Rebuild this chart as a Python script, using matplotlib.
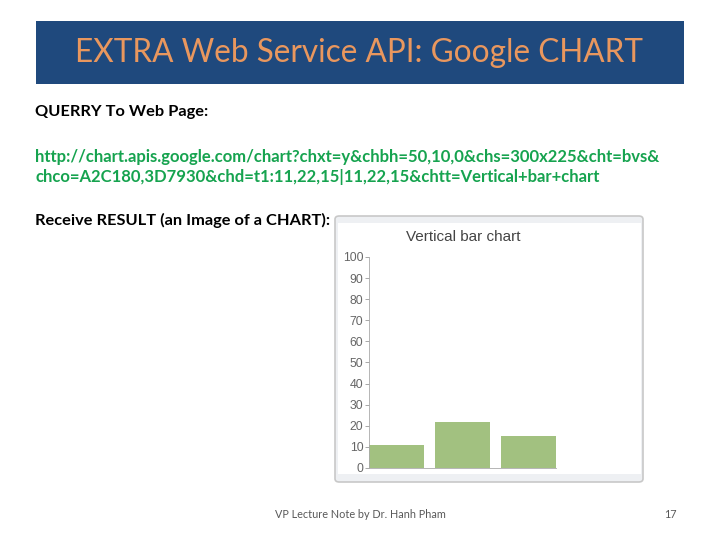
import matplotlib
matplotlib.use("Agg")
import matplotlib.pyplot as plt
from matplotlib.patches import Rectangle, FancyBboxPatch

W, H = 720, 540

# data from the chart image
categories = ["A", "B", "C"]
values = [11, 22, 15]
y_ticks = [0, 10, 20, 30, 40, 50, 60, 70, 80, 90, 100]

slide_title = "EXTRA Web Service API: Google CHART"
query_label = "QUERRY To Web Page:"
url_lines = ["http://chart.apis.google.com/chart?chxt=y&chbh=50,10,0&chs=300x225&cht=bvs&",
             "chco=A2C180,3D7930&chd=t1:11,22,15|11,22,15&chtt=Vertical+bar+chart"]
result_label = "Receive RESULT (an Image of a CHART):"
chart_title = "Vertical bar chart"
footer = "VP Lecture Note by Dr. Hanh Pham"
page_no = "17"


def fx(px):
    return px / W


def fy(py):
    return 1 - py / H


fig = plt.figure(figsize=(7.2, 5.4), dpi=100)
fig.patch.set_facecolor("white")

# title banner
fig.patches.append(Rectangle((fx(36), fy(84)), fx(684) - fx(36), fy(21) - fy(84),
                             transform=fig.transFigure, facecolor="#1F497D", edgecolor="none"))
fig.text(fx(359), fy(53), slide_title, ha="center", va="center", color="#E9975E",
         fontsize=22.7, family="Lato")

fig.text(fx(35), fy(112), query_label, ha="left", va="center", color="black",
         fontsize=11.8, family="Lato", weight="bold")
fig.text(fx(35), fy(157), url_lines[0], ha="left", va="center", color="#16A34F",
         fontsize=12, family="Lato", weight="bold")
fig.text(fx(35), fy(177), url_lines[1], ha="left", va="center", color="#16A34F",
         fontsize=12, family="Lato", weight="bold")
fig.text(fx(35), fy(220), result_label, ha="left", va="center", color="black",
         fontsize=11.8, family="Lato", weight="bold")

# chart image frame
fig.patches.append(FancyBboxPatch((fx(335), fy(482)), fx(643) - fx(335), fy(216) - fy(482),
                                  boxstyle="round,pad=0,rounding_size=0.006",
                                  transform=fig.transFigure, facecolor="#EEF0F3",
                                  edgecolor="#C8C8C8", linewidth=1.2))
fig.patches.append(Rectangle((fx(338), fy(474)), fx(641) - fx(338), fy(223) - fy(474),
                             transform=fig.transFigure, facecolor="white", edgecolor="none"))
fig.text(fx(463), fy(237), chart_title, ha="center", va="center", color="#444444",
         fontsize=11, family="Liberation Sans")

ax = fig.add_axes([fx(369), fy(468), fx(633) - fx(369), fy(257) - fy(468)])
ax.set_zorder(5)
ax.set_facecolor("none")
x = range(len(categories))
ax.bar(x, values, width=0.83, align="edge", color="#A2C180", edgecolor="none")
ax.set_xlim(0, 4.0)
ax.set_ylim(0, 100)
ax.set_yticks(y_ticks)
ax.set_yticklabels([str(t) for t in y_ticks], color="#666666", fontsize=8.8,
                   family="Liberation Sans")
ax.tick_params(axis="y", length=3, width=0.6, color="#999999", pad=1)
ax.set_xticks([])
for side in ["top", "right"]:
    ax.spines[side].set_visible(False)
ax.spines["left"].set_color("#AAAAAA")
ax.spines["left"].set_linewidth(0.6)
ax.spines["bottom"].set_bounds(0, 2.83)
ax.spines["bottom"].set_color("#AAAAAA")
ax.spines["bottom"].set_linewidth(0.6)

fig.text(fx(360), fy(515), footer, ha="center", va="center", color="#595959",
         fontsize=7.8, family="Lato")
fig.text(fx(670), fy(515), page_no, ha="center", va="center", color="#595959",
         fontsize=7.8, family="Lato")

fig.savefig("out.png", dpi=100)
